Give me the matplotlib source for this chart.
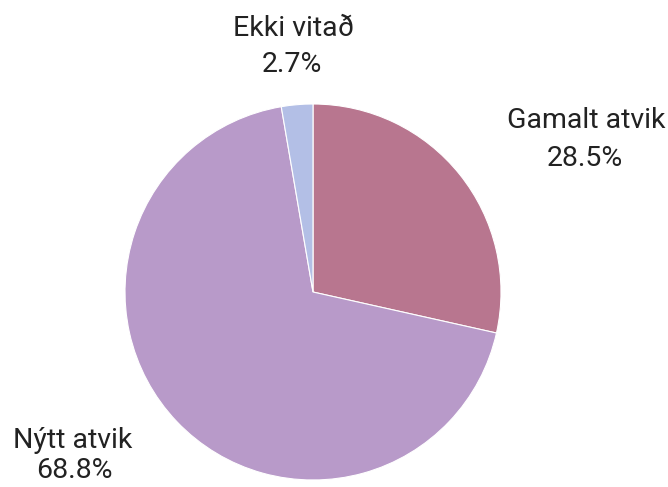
import matplotlib.pyplot as plt

# Dane wykresu
labels = ["Gamalt atvik", "Nýtt atvik", "Ekki vitað"]
shares = [28.5, 68.8, 2.7]
colors = ["#b8768f", "#b89ac9", "#b3bfe6"]

# Pozycje etykiet (w pikselach obrazu, y od gory): nazwa, procent
label_pos = {
    "Gamalt atvik": ((586, 121), (585, 158)),
    "Nýtt atvik": ((73, 440), (74, 471)),
    "Ekki vitað": ((294, 29), (292, 65)),
}

W, H = 668, 487
fig = plt.figure(figsize=(W / 100, H / 100), dpi=100)
ax = fig.add_axes([0, 0, 1, 1])

ax.pie(shares, colors=colors, startangle=90, counterclock=False,
       center=(313, H - 292), radius=188,
       wedgeprops=dict(edgecolor="white", linewidth=0.8))

ax.set_xlim(0, W)
ax.set_ylim(0, H)
ax.set_aspect("equal")
ax.axis("off")

font = dict(ha="center", va="center", fontsize=20.5, family="Roboto", color="#222222")
for name, value in zip(labels, shares):
    (x1, y1), (x2, y2) = label_pos[name]
    ax.text(x1, H - y1, name, **font)
    ax.text(x2, H - y2, f"{value}%", **font)

fig.savefig("out.png", dpi=100, facecolor="white")
